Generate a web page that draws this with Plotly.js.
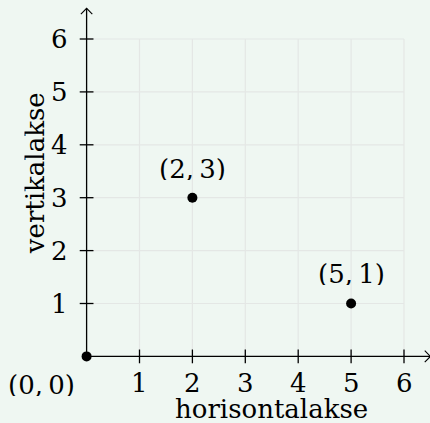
<!DOCTYPE html>
<html>
<head>
<meta charset="utf-8">
<script src="https://cdn.plot.ly/plotly-3.0.1.min.js"></script>
<style>html,body{margin:0;padding:0;background:#eff7f2;}</style>
</head>
<body>
<div id="chart" style="width:430px;height:423px;"></div>
<script>
// data
const pointX = [0, 2, 5];
const pointY = [0, 3, 1];
const pointLabels = ["(0,\u20090)", "(2,\u20093)", "(5,\u20091)"];
const xTicks = [1, 2, 3, 4, 5, 6];
const yTicks = [1, 2, 3, 4, 5, 6];
const xTickLabels = ["1", "2", "3", "4", "5", "6"];
const yTickLabels = ["1", "2", "3", "4", "5", "6"];
const xTitle = "horisontalakse";
const yTitle = "vertikalakse";

// layout constants
const gridMax = 6;
const xAxisEnd = 6.5, yAxisEnd = 6.58;
const tickHalf = 0.13, arrow = 0.108;
const FONT = "DejaVu Serif";
const FS = 26;
const ink = "#000000";

const shapes = [];
// gridlines
xTicks.forEach(v => shapes.push({type:"line", xref:"x", yref:"y", x0:v, x1:v, y0:0, y1:gridMax, line:{color:"#e4e7e5", width:1.2}, layer:"below"}));
yTicks.forEach(v => shapes.push({type:"line", xref:"x", yref:"y", x0:0, x1:gridMax, y0:v, y1:v, line:{color:"#e4e7e5", width:1.2}, layer:"below"}));
// axes
shapes.push({type:"line", xref:"x", yref:"y", x0:0, x1:xAxisEnd, y0:0, y1:0, line:{color:ink, width:1.3}});
shapes.push({type:"line", xref:"x", yref:"y", x0:0, x1:0, y0:0, y1:yAxisEnd, line:{color:ink, width:1.3}});
// arrow heads
shapes.push({type:"path", xref:"x", yref:"y", path:`M ${xAxisEnd-arrow} ${arrow} L ${xAxisEnd} 0 L ${xAxisEnd-arrow} ${-arrow}`, line:{color:ink, width:1.1}});
shapes.push({type:"path", xref:"x", yref:"y", path:`M ${-arrow} ${yAxisEnd-arrow} L 0 ${yAxisEnd} L ${arrow} ${yAxisEnd-arrow}`, line:{color:ink, width:1.1}});
// ticks
xTicks.forEach(v => shapes.push({type:"line", xref:"x", yref:"y", x0:v, x1:v, y0:-tickHalf, y1:tickHalf, line:{color:ink, width:1.3}}));
yTicks.forEach(v => shapes.push({type:"line", xref:"x", yref:"y", x0:-tickHalf, x1:tickHalf, y0:v, y1:v, line:{color:ink, width:1.3}}));

const font = {family:FONT, size:FS, color:ink};
const H = 22;
const annotations = [];
xTicks.forEach((v,i) => annotations.push({x:v, y:-0.51, xref:"x", yref:"y", text:xTickLabels[i], showarrow:false, font, height:H, xanchor:"center", yanchor:"middle"}));
yTicks.forEach((v,i) => annotations.push({x:-0.31, y:v, xref:"x", yref:"y", text:yTickLabels[i], showarrow:false, font, height:H, xanchor:"right", yanchor:"middle"}));
// point labels
annotations.push({x:-0.85, y:-0.54, xref:"x", yref:"y", text:pointLabels[0], showarrow:false, font, height:H, xanchor:"center", yanchor:"middle"});
annotations.push({x:pointX[1], y:pointY[1]+0.55, xref:"x", yref:"y", text:pointLabels[1], showarrow:false, font, height:H, xanchor:"center", yanchor:"middle"});
annotations.push({x:pointX[2], y:pointY[2]+0.55, xref:"x", yref:"y", text:pointLabels[2], showarrow:false, font, height:H, xanchor:"center", yanchor:"middle"});
// axis titles
annotations.push({x:3.5, y:-1.0, xref:"x", yref:"y", text:xTitle, showarrow:false, font, height:H, xanchor:"center", yanchor:"middle"});
annotations.push({x:-0.96, y:3.46, xref:"x", yref:"y", text:yTitle, showarrow:false, font, height:H, textangle:-90, xanchor:"center", yanchor:"middle"});

const trace = {x:pointX, y:pointY, mode:"markers", type:"scatter", marker:{color:ink, size:10}, cliponaxis:false, hoverinfo:"skip"};

const k = 52.9;
const layout = {
  width:430, height:423,
  margin:{l:0, r:0, t:0, b:0, pad:0},
  paper_bgcolor:"#eff7f2", plot_bgcolor:"#eff7f2",
  showlegend:false,
  xaxis:{range:[-86.6/k, (430-86.6)/k], visible:false, fixedrange:true},
  yaxis:{range:[(356.4-423)/k, 356.4/k], visible:false, fixedrange:true},
  shapes, annotations
};
Plotly.newPlot("chart", [trace], layout, {staticPlot:true, displayModeBar:false});
</script>
</body>
</html>
